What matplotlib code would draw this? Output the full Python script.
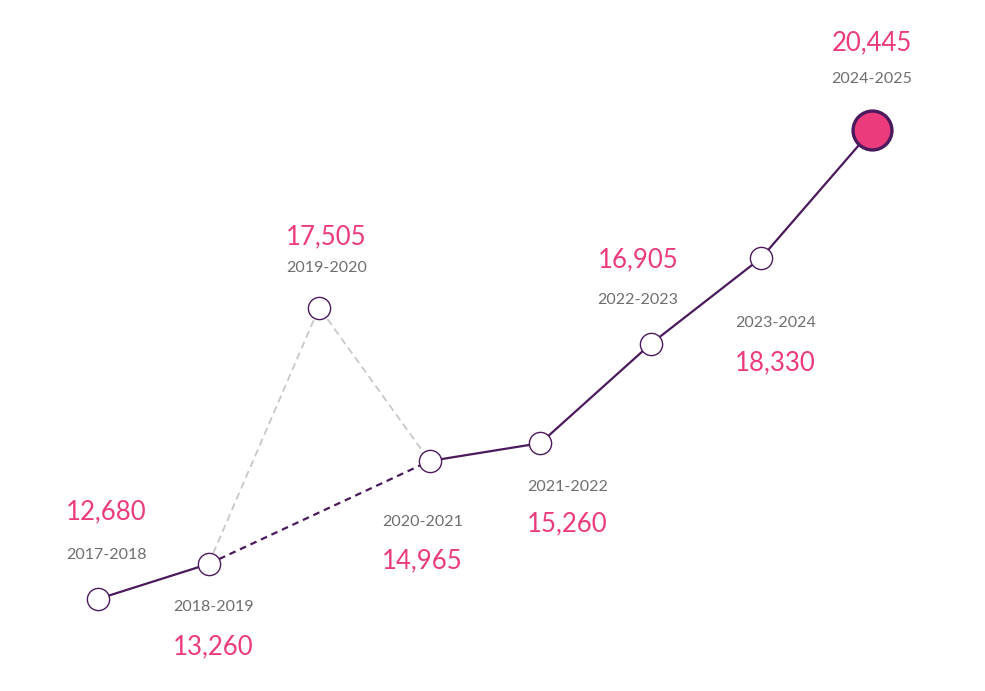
import matplotlib.pyplot as plt

# data
seasons = ['2017-2018', '2018-2019', '2019-2020', '2020-2021',
           '2021-2022', '2022-2023', '2023-2024', '2024-2025']
values = [12680, 13260, 17505, 14965, 15260, 16905, 18330, 20445]

pink = '#EC3B7D'
purple = '#4A1A5C'
grey_txt = '#6E6E6E'

# label offsets in pixels (dx, dy of value, dy of season), dy positive = down
offsets = [(8, -87, -44), (5, 83, 43), (7, -71, -40), (-7, 100, 61),
           (27, 81, 44), (-13, -84, -44), (14, 105, 65), (0, -87, -51)]

fig = plt.figure(figsize=(9.85, 6.91), dpi=100)
ax = fig.add_axes([0, 0, 1, 1])
x = list(range(len(seasons)))

# solid first segment
ax.plot(x[0:2], values[0:2], color=purple, lw=1.6, zorder=2)
# dashed bypass 2018-19 -> 2020-21
ax.plot([x[1], x[3]], [values[1], values[3]], color=purple, lw=1.6,
        ls=(0, (3, 2.2)), zorder=2)
# grey dashed through 2019-20
ax.plot(x[1:4], values[1:4], color='#C8C8C8', lw=1.3, ls=(0, (4, 2.5)), zorder=1)
# solid rest
ax.plot(x[3:], values[3:], color=purple, lw=1.6, zorder=2)

ax.plot(x[:-1], values[:-1], 'o', ms=16, mfc='white', mec=purple, mew=1.0, zorder=3)
ax.plot(x[-1], values[-1], 'o', ms=28, mfc=pink, mec=purple, mew=2.4, zorder=3)

px = 72 / fig.dpi
for xi, v, s, (dx, dv, ds) in zip(x, values, seasons, offsets):
    ax.annotate(f'{v:,}', (xi, v), xytext=(dx * px, -dv * px), textcoords='offset points',
                ha='center', va='center', fontsize=18.5, color=pink,
                family='Lato', fontweight='normal')
    ax.annotate(s, (xi, v), xytext=(dx * px, -ds * px), textcoords='offset points',
                ha='center', va='center', fontsize=11.5, color=grey_txt,
                family='Lato', fontweight='normal')

sp = 110.57
ax.set_xlim(-98 / sp, 7 + (985 - 872) / sp)
k = (599 - 130) / (20445 - 12680)
ax.set_ylim(12680 - (691 - 599) / k, 20445 + 130 / k)
ax.axis('off')

fig.savefig('out.png', dpi=100, facecolor='white')
